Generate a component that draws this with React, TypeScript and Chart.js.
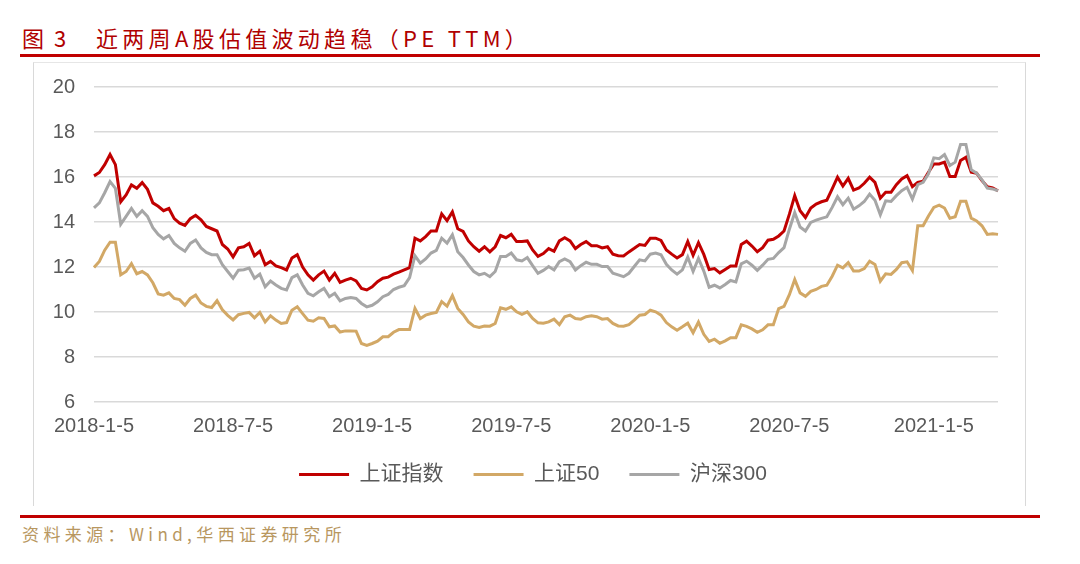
import React, { useEffect, useRef } from 'react';
import { Chart, registerables } from 'chart.js';

Chart.register(...registerables);

// ---- data ----
const START_DATE = '2018-01-05';
const TICK_LABELS = ['2018-1-5', '2018-7-5', '2019-1-5', '2019-7-5', '2020-1-5', '2020-7-5', '2021-1-5'];
const TICK_DATES = ['2018-01-05', '2018-07-05', '2019-01-05', '2019-07-05', '2020-01-05', '2020-07-05', '2021-01-05'];
const SERIES_NAMES = ['上证指数', '上证50', '沪深300'];

const SH_INDEX = [
  16.05, 16.2, 16.55, 17.0, 16.55, 14.9, 15.2, 15.65, 15.5, 15.75,
  15.45, 14.85, 14.7, 14.5, 14.6, 14.15, 13.95, 13.85, 14.15, 14.3,
  14.1, 13.8, 13.7, 13.6, 13.0, 12.8, 12.45, 12.85, 12.9, 13.05,
  12.5, 12.7, 12.1, 12.25, 12.05, 11.97, 11.87, 12.4, 12.55, 12.0,
  11.65, 11.42, 11.65, 11.82, 11.42, 11.72, 11.32, 11.42, 11.5, 11.38,
  11.05, 10.98, 11.12, 11.35, 11.5, 11.55, 11.68, 11.77, 11.87, 11.97,
  13.28, 13.16, 13.35, 13.6, 13.6, 14.36, 14.06, 14.45, 13.7, 13.58,
  13.16, 12.9, 12.7, 12.9, 12.67, 12.9, 13.4, 13.3, 13.45, 13.13,
  13.13, 13.16, 12.76, 12.47, 12.6, 12.82, 12.7, 13.16, 13.3, 13.16,
  12.82, 13.0, 13.13, 12.95, 12.95, 12.85, 12.9, 12.57, 12.5, 12.49,
  12.67, 12.83, 13.0, 12.96, 13.28, 13.28, 13.18, 12.76, 12.57, 12.4,
  12.55, 13.13, 12.52, 13.08, 12.56, 11.89, 11.93, 11.74, 11.89, 12.04,
  12.04, 13.0, 13.15, 12.93, 12.68, 12.86, 13.19, 13.23, 13.38, 13.6,
  14.35, 15.17, 14.5, 14.2, 14.62, 14.8, 14.9, 14.97, 15.47, 15.99,
  15.6, 15.94, 15.42, 15.51, 15.72, 15.99, 15.76, 15.06, 15.32, 15.32,
  15.66, 15.91, 16.06, 15.57, 15.76, 15.81, 16.21, 16.58, 16.58, 16.66,
  16.02, 16.02, 16.73, 16.88, 16.21, 16.17, 15.84, 15.57, 15.51, 15.39,
];

const SH50 = [
  11.98, 12.25, 12.75, 13.1, 13.1, 11.65, 11.8, 12.15, 11.7, 11.8,
  11.65, 11.3, 10.8, 10.75, 10.85, 10.6, 10.55, 10.3, 10.6, 10.75,
  10.4, 10.25, 10.2, 10.5, 10.1, 9.85, 9.65, 9.88, 9.94, 9.98,
  9.74, 9.98, 9.56, 9.83, 9.64, 9.49, 9.53, 10.08, 10.23, 9.93,
  9.64, 9.59, 9.74, 9.71, 9.34, 9.38, 9.11, 9.16, 9.16, 9.15,
  8.6, 8.52, 8.6, 8.7, 8.9, 8.9, 9.1, 9.22, 9.22, 9.22,
  10.16, 9.71, 9.86, 9.93, 9.98, 10.46, 10.26, 10.73, 10.16, 9.89,
  9.56, 9.37, 9.31, 9.38, 9.37, 9.49, 10.19, 10.12, 10.23, 10.01,
  9.9, 10.01, 9.71, 9.52, 9.5, 9.56, 9.68, 9.44, 9.79, 9.86,
  9.71, 9.68, 9.79, 9.83, 9.79, 9.68, 9.71, 9.49, 9.38, 9.37,
  9.44, 9.64, 9.86, 9.89, 10.08, 10.01, 9.86, 9.53, 9.34, 9.19,
  9.34, 9.5, 9.08, 9.55, 9.01, 8.69, 8.79, 8.61, 8.72, 8.86,
  8.86, 9.43, 9.36, 9.25, 9.1, 9.21, 9.43, 9.43, 10.15, 10.25,
  10.77, 11.44, 10.85, 10.7, 10.92, 11.0, 11.14, 11.19, 11.59, 12.08,
  11.96, 12.19, 11.82, 11.82, 11.93, 12.26, 12.11, 11.37, 11.7, 11.67,
  11.89, 12.19, 12.23, 11.84, 13.83, 13.83, 14.27, 14.65, 14.75, 14.62,
  14.17, 14.23, 14.92, 14.92, 14.17, 14.05, 13.83, 13.45, 13.48, 13.45,
];

const HS300 = [
  14.63, 14.85, 15.3, 15.8, 15.5, 13.9, 14.25, 14.6, 14.25, 14.5,
  14.25, 13.75, 13.45, 13.25, 13.4, 13.05, 12.85, 12.7, 13.05, 13.2,
  12.85, 12.65, 12.55, 12.55, 12.1, 11.8, 11.5, 11.86, 11.88, 11.95,
  11.5, 11.68, 11.12, 11.38, 11.2, 11.05, 10.98, 11.53, 11.65, 11.2,
  10.83, 10.72, 10.9, 11.05, 10.68, 10.83, 10.49, 10.6, 10.64, 10.6,
  10.38, 10.23, 10.3, 10.45, 10.68, 10.78, 11.0, 11.1, 11.17, 11.53,
  12.5, 12.17, 12.36, 12.62, 12.74, 13.28, 13.06, 13.43, 12.68, 12.42,
  12.09, 11.8, 11.65, 11.72, 11.57, 11.8, 12.47, 12.47, 12.62, 12.32,
  12.27, 12.42, 12.06, 11.72, 11.85, 12.02, 11.87, 12.24, 12.36, 12.24,
  11.87, 12.06, 12.21, 12.12, 12.12, 12.02, 12.02, 11.72, 11.65, 11.57,
  11.72, 12.02, 12.32, 12.27, 12.57, 12.62, 12.54, 12.12, 11.87, 11.68,
  11.87, 12.44, 11.8, 12.38, 11.82, 11.1, 11.19, 11.07, 11.22, 11.4,
  11.34, 12.14, 12.26, 12.08, 11.85, 12.08, 12.34, 12.38, 12.64, 12.86,
  13.68, 14.42, 13.78, 13.6, 13.98, 14.08, 14.16, 14.23, 14.65, 15.12,
  14.77, 15.06, 14.57, 14.72, 14.91, 15.24, 14.97, 14.32, 14.94, 14.91,
  15.17, 15.39, 15.54, 15.02, 15.66, 15.76, 16.14, 16.85, 16.81, 17.0,
  16.51, 16.66, 17.45, 17.45, 16.32, 16.17, 15.87, 15.51, 15.47, 15.39,
];

// ---- derived categories ----
const DAY_MS = 86400000;
const toUTC = (s: string) => {
  const [y, m, d] = s.split('-').map(Number);
  return Date.UTC(y, m - 1, d);
};
const WEEK_LABELS: string[] = SH_INDEX.map((_, i) => {
  const dt = new Date(toUTC(START_DATE) + i * 7 * DAY_MS);
  return `${dt.getUTCFullYear()}-${dt.getUTCMonth() + 1}-${dt.getUTCDate()}`;
});
const TICK_INDEX = TICK_DATES.map((d) => Math.round((toUTC(d) - toUTC(START_DATE)) / (7 * DAY_MS)));

const RED = '#C00000';
const GOLD = '#D2A866';
const GRAY = '#A6A6A6';
const TEXT = '#595959';
const FONT = "'Liberation Sans', 'Noto Sans CJK SC', Arial, sans-serif";
const LEGEND_CENTER_X = 533;

const legendShift = {
  id: 'legendShift',
  afterLayout(chart: any) {
    const lg = chart.legend;
    if (!lg) return;
    const w = lg.right - lg.left;
    lg.left = LEGEND_CENTER_X - w / 2;
    lg.right = lg.left + w;
  },
};

export default function App() {
  const ref = useRef<HTMLCanvasElement>(null);

  useEffect(() => {
    if (!ref.current) return;
    const mk = (label: string, data: number[], color: string, order: number) => ({
      label,
      data,
      borderColor: color,
      backgroundColor: color,
      borderWidth: 3,
      pointRadius: 0,
      pointHoverRadius: 0,
      tension: 0,
      fill: false,
      order,
    });
    const chart = new Chart(ref.current, {
      type: 'line',
      data: {
        labels: WEEK_LABELS,
        datasets: [
          mk(SERIES_NAMES[0], SH_INDEX, RED, 1),
          mk(SERIES_NAMES[1], SH50, GOLD, 2),
          mk(SERIES_NAMES[2], HS300, GRAY, 0),
        ],
      },
      plugins: [legendShift],
      options: {
        responsive: false,
        animation: false,
        devicePixelRatio: 1,
        layout: { padding: { left: 0, right: 82, top: 87, bottom: 69 } },
        plugins: {
          legend: {
            position: 'bottom',
            labels: {
              usePointStyle: true,
              pointStyle: 'line',
              pointStyleWidth: 50,
              boxHeight: 3,
              padding: 30,
              color: TEXT,
              font: { family: FONT, size: 21 },
              sort: (a: any, b: any) => a.datasetIndex - b.datasetIndex,
            },
          },
          tooltip: { enabled: false },
        },
        scales: {
          x: {
            type: 'category',
            grid: { display: false, drawTicks: false },
            border: { display: false },
            ticks: {
              autoSkip: false,
              maxRotation: 0,
              minRotation: 0,
              padding: 12,
              color: TEXT,
              font: { family: FONT, size: 20 },
              callback: (_v: any, i: number) => TICK_LABELS[i],
            },
            afterBuildTicks: (s: any) => {
              s.ticks = TICK_INDEX.map((v) => ({ value: v }));
            },
            afterFit: (s: any) => {
              s.height = 32;
            },
          },
          y: {
            min: 6,
            max: 20,
            ticks: {
              stepSize: 2,
              padding: 19,
              color: TEXT,
              font: { family: FONT, size: 20 },
            },
            grid: { color: '#D9D9D9', lineWidth: 1.5, drawTicks: false },
            border: { display: false },
            afterFit: (s: any) => {
              s.width = 94;
            },
          },
        },
      },
    } as any);
    return () => chart.destroy();
  }, []);

  const titleStyle: React.CSSProperties = {
    position: 'absolute',
    top: 25,
    fontSize: 22,
    lineHeight: '24px',
    color: '#B00000',
    whiteSpace: 'nowrap',
  };

  return (
    <div
      style={{
        position: 'fixed',
        left: 0,
        top: 0,
        width: 1080,
        height: 564,
        background: '#fff',
        overflow: 'hidden',
        fontFamily: "'Noto Sans CJK SC', sans-serif",
      }}
    >
      <div style={{ ...titleStyle, left: 22 }}>图</div>
      <div style={{ ...titleStyle, left: 54 }}>3</div>
      <div style={{ ...titleStyle, left: 96, letterSpacing: 4.3 }}>近两周A股估值波动趋稳（PE TTM）</div>
      <div style={{ position: 'absolute', left: 20, top: 54, width: 1020, height: 3, background: RED }} />
      <div
        style={{
          position: 'absolute',
          left: 33,
          top: 62,
          width: 993,
          height: 444,
          borderLeft: '1.5px solid #D9D9D9',
          borderTop: '1.5px solid #E6E6E6',
          borderRight: '1.5px solid #D9D9D9',
          boxSizing: 'border-box',
        }}
      />
      <div style={{ position: 'absolute', left: 20, top: 515, width: 1020, height: 3, background: RED }} />
      <div
        style={{
          position: 'absolute',
          left: 22,
          top: 524,
          fontSize: 17,
          lineHeight: '20px',
          color: '#B8975F',
          letterSpacing: 4.4,
          whiteSpace: 'nowrap',
        }}
      >
        资料来源：Wind,华西证券研究所
      </div>
      <canvas ref={ref} width={1080} height={564} style={{ position: 'absolute', left: 0, top: 0 }} />
    </div>
  );
}
